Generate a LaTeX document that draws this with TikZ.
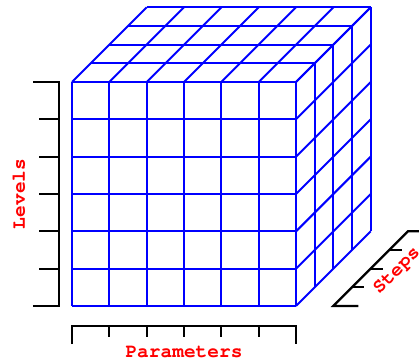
\documentclass[tikz,border=0pt]{standalone}
\usepackage[T1]{fontenc}
\usepackage{tikz}

\begin{document}
\begin{tikzpicture}[
    x=37.333pt, y=37.333pt,
    cube/.style={draw=blue, line width=2pt},
    axis/.style={draw=black, line width=2.3pt},
    axislabel/.style={text=red, inner sep=0pt, font=\fontsize{19.5}{20}\fontfamily{pcr}\fontseries{b}\selectfont}
]
\useasboundingbox (-72pt,-57pt) rectangle ++(419pt,363pt);
\clip (-72pt,-57pt) rectangle ++(419pt,363pt);

% Front face
\foreach \i in {0,...,6} \draw[cube] (\i,0) -- (\i,6);
\foreach \j in {0,...,6} \draw[cube] (0,\j) -- (6,\j);

% Top face
\foreach \k in {0,...,4} \draw[cube] (0.5*\k,6+0.5*\k) -- ++(6,0);
\foreach \i in {0,...,6} \draw[cube] (\i,6) -- ++(2,2);

% Right face
\foreach \k in {0,...,4} \draw[cube] (6+0.5*\k,0.5*\k) -- ++(0,6);
\foreach \j in {0,...,6} \draw[cube] (6,\j) -- ++(2,2);

% Levels axis
\draw[axis] (-1.05,0) -- (-0.35,0) -- (-0.35,6) -- (-1.05,6);
\foreach \j in {1,...,5} \draw[axis] (-0.35,\j) -- (-0.88,\j);

% Parameters axis
\draw[axis] (0,-1.02) -- (0,-0.536) -- (6,-0.536) -- (6,-1.02);
\foreach \i in {1,...,5} \draw[axis] (\i,-0.536) -- (\i,-0.83);

% Steps axis
\draw[axis] (7.67,0) -- (7,0) -- (9,2) -- (9.67,2);
\foreach \k in {1,...,3} \draw[axis] (7+0.5*\k,0.5*\k) -- ++(0.33,0);

% Labels
\node[axislabel, rotate=90] (levels) at (-1.42,3) {Levels};
\node[axislabel] (parameters) at (3,-1.23) {Parameters};
\node[axislabel, rotate=45] (steps) at (8.7,0.94) {Steps};

\end{tikzpicture}
\end{document}
